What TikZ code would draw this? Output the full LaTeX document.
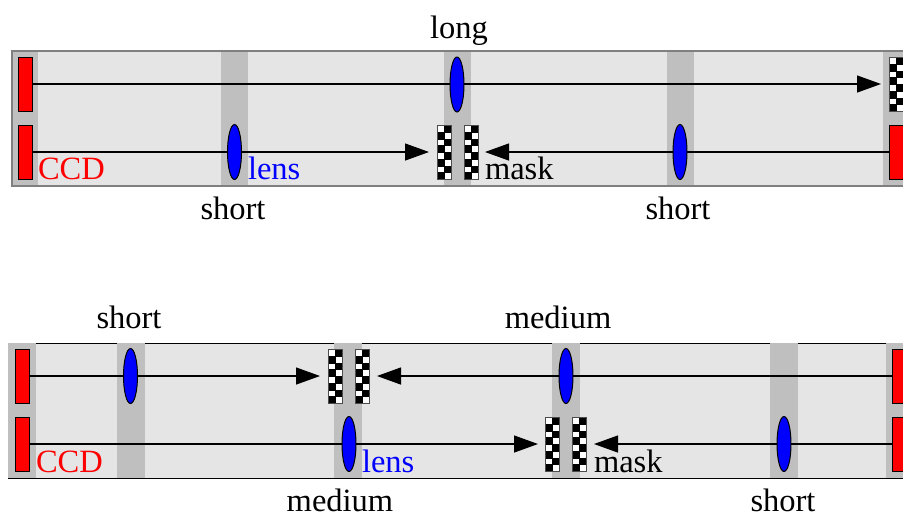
\documentclass[tikz,border=0pt]{standalone}
\usepackage{fontspec}
\setmainfont{Liberation Serif}
\usetikzlibrary{arrows.meta, shapes.geometric}
\colorlet{PanelFill}{black!10}
\colorlet{StripeFill}{black!25}
\tikzset{
    ccd/.style={draw=black, fill=red, line width=0.5pt, inner sep=0pt, outer sep=0pt,
        minimum width=7pt, minimum height=27pt},
    lens/.style={ellipse, draw=black, fill=blue, line width=0.5pt, inner sep=0pt, outer sep=0pt,
        minimum width=7pt, minimum height=27.5pt},
    mask/.style={draw=black!70, fill=black, line width=0.4pt, inner sep=0pt, outer sep=0pt,
        minimum width=7pt, minimum height=27pt,
        path picture={
            \foreach \r in {0,...,7}{
                \pgfmathsetmacro{\c}{mod(\r,2)*7}
                \fill[white] ([xshift=\c*0.5pt+0.6pt, yshift=-\r*3.375pt-0.6pt]path picture bounding box.north west)
                    rectangle ++(2.8pt,-2.8pt);
            }
        }
    },
    ray/.style={draw=black, line width=0.65pt},
    rayarrow/.style={ray, -{Triangle[length=12pt, width=8.5pt]}, shorten >=#1},
    caption/.style={font=\fontsize{16.25}{18}\selectfont, inner sep=0pt, outer sep=0pt}
}

\begin{document}
\begin{tikzpicture}[x=0.5pt, y=-0.5pt]

    \clip (0,0) rectangle (903,516);

    % Panels
    \fill[PanelFill] (12,51) rectangle (910,186);
    \fill[PanelFill] (8,343) rectangle (910,478);
    \draw[black, line width=0.5pt] (8,343) -- (910,343);
    \draw[black, line width=0.5pt] (8,478) -- (910,478);

    % Lens planes
    \foreach \x/\w in {12/26, 221/27, 444/27, 667/27, 883/30}{
        \fill[StripeFill] (\x,51) rectangle ++(\w,135);
    }
    \foreach \x/\w in {8/28, 117/28, 334/28, 552/28, 770/28, 886/30}{
        \fill[StripeFill] (\x,343) rectangle ++(\w,135);
    }
    \draw[black!50, line width=0.75pt] (12,51) rectangle (910,186);

    % Detectors
    \node[ccd] (ccdA) at (25.5,84) {};
    \node[ccd] (ccdB) at (25.5,152) {};
    \node[ccd] (ccdC) at (896,152) {};
    \node[ccd] (ccdD) at (22,376) {};
    \node[ccd] (ccdE) at (22,444) {};
    \node[ccd] (ccdF) at (899,376) {};
    \node[ccd] (ccdG) at (899,444) {};

    % Masks
    \node[mask] (maskA) at (896,84) {};
    \node[mask] (maskB) at (444,152) {};
    \node[mask] (maskC) at (471,152) {};
    \node[mask] (maskD) at (335,376) {};
    \node[mask] (maskE) at (362,376) {};
    \node[mask] (maskF) at (552,444) {};
    \node[mask] (maskG) at (579,444) {};

    % Rays
    \draw[rayarrow=4pt] (ccdA) -- (maskA);
    \draw[rayarrow=4pt] (ccdB) -- (maskB);
    \draw[rayarrow=3.5pt] (ccdC) -- (maskC);
    \draw[rayarrow=4pt] (ccdD) -- (maskD);
    \draw[rayarrow=4pt] (ccdF) -- (maskE);
    \draw[rayarrow=3.5pt] (ccdE) -- (maskF);
    \draw[rayarrow=4pt] (ccdG) -- (maskG);

    % Lenses
    \node[lens] (lensA) at (457,84.5) {};
    \node[lens] (lensB) at (234.5,152) {};
    \node[lens] (lensC) at (680,152) {};
    \node[lens] (lensD) at (130.5,376) {};
    \node[lens] (lensE) at (349,444) {};
    \node[lens] (lensF) at (566,376) {};
    \node[lens] (lensG) at (784,444) {};

    % Labels
    \node[caption, anchor=base] (longA) at (459,38) {long};
    \node[caption, anchor=base] (shortA) at (233,219) {short};
    \node[caption, anchor=base] (shortB) at (678,219) {short};
    \node[caption, anchor=base west, text=red] (ccdTextA) at (38,179) {CCD};
    \node[caption, anchor=base west, text=blue] (lensTextA) at (248,179) {lens};
    \node[caption, anchor=base west] (maskTextA) at (485,179) {mask};

    \node[caption, anchor=base] (shortC) at (129,328) {short};
    \node[caption, anchor=base] (mediumA) at (558,328) {medium};
    \node[caption, anchor=base] (mediumB) at (340,511) {medium};
    \node[caption, anchor=base] (shortD) at (783,511) {short};
    \node[caption, anchor=base west, text=red] (ccdTextB) at (36,472) {CCD};
    \node[caption, anchor=base west, text=blue] (lensTextB) at (362,472) {lens};
    \node[caption, anchor=base west] (maskTextB) at (594,472) {mask};

\end{tikzpicture}
\end{document}
